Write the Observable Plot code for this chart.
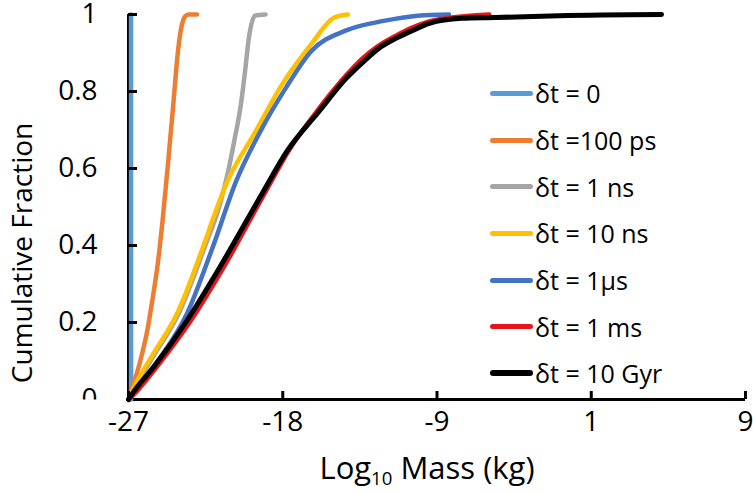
<!DOCTYPE html>
<html>
<head>
<meta charset="utf-8">
<script src="https://cdn.jsdelivr.net/npm/d3@7"></script>
<script src="https://cdn.jsdelivr.net/npm/@observablehq/plot@0.6"></script>
<style>
  body { margin: 0; background: #fff; font-family: "Open Sans", sans-serif; }
  #wrap { position: relative; width: 753px; height: 493px; overflow: hidden; background: #fff; }
  #legend { position: absolute; left: 490px; top: 70px; }
  .item { display: flex; align-items: center; height: 46.7px; font-size: 25px; color: #000; white-space: nowrap; }
  .sw { width: 43px; height: 5px; border-radius: 3px; margin-right: 2px; }
  #xtitle { position: absolute; top: 440px; left: 427px; transform: translateX(-50%); font-size: 31px; line-height: 54px; white-space: nowrap; color: #000; }
  #xtitle sub { font-size: 0.6em; vertical-align: -0.3em; line-height: 0; }
</style>
</head>
<body>
<div id="wrap">
  <div id="chart"></div>
  <div id="xtitle">Log<sub>10</sub> Mass (kg)</div>
  <div id="legend"></div>
</div>
<script>
// ---- labels ----
const seriesNames = ["δt = 0", "δt =100 ps", "δt = 1 ns", "δt = 10 ns", "δt = 1µs", "δt = 1 ms", "δt = 10 Gyr"];
const seriesColors = ["#5B9BD5", "#ED7D31", "#A5A5A5", "#FFC000", "#4472C4", "#E8141B", "#000000"];
const xTickValues = [-27, -18, -9, 0, 9];
const xTickLabels = ["-27", "-18", "-9", "1", "9"];
const yTickValues = [0, 0.2, 0.4, 0.6, 0.8, 1];
const yTickLabels = ["0", "0.2", "0.4", "0.6", "0.8", "1"];
const yTitle = "Cumulative Fraction";

// ---- series (log10 mass, cumulative fraction) ----
const dt0_x = [-26.85, -26.85];
const dt0_y = [0, 1];

const ps100_x = [-27, -26.8, -26.5, -26.2, -25.9, -25.6, -25.3, -25.0, -24.7, -24.4, -24.1, -23.9, -23.7, -23.5, -23.0];
const ps100_y = [0, 0.03, 0.07, 0.12, 0.18, 0.26, 0.35, 0.47, 0.61, 0.76, 0.91, 0.97, 0.995, 1, 1];

const ns1_x = [-27, -26.4, -25.45, -24.07, -22.56, -21.6, -21.2, -20.8, -20.45, -20.2, -19.98, -19.62, -19.0];
const ns1_y = [0, 0.049, 0.119, 0.223, 0.395, 0.517, 0.590, 0.678, 0.764, 0.852, 0.938, 0.997, 1];

const ns10_x = [-27, -26.48, -25.55, -24.17, -22.66, -21.68, -21.2, -19.65, -18.0, -16.3, -15.0, -14.2];
const ns10_y = [0, 0.049, 0.119, 0.223, 0.395, 0.517, 0.569, 0.691, 0.821, 0.925, 0.992, 1];

const us1_x = [-27, -26.31, -25.15, -23.59, -22.09, -20.70, -19.37, -17.81, -16.31, -14.34, -12.03, -10.12, -8.3];
const us1_y = [0, 0.042, 0.109, 0.223, 0.395, 0.569, 0.691, 0.810, 0.906, 0.958, 0.984, 0.997, 1];

const ms1_x = [-27, -26.48, -25.38, -23.36, -21.45, -19.0, -17.6, -15.85, -14.3, -13.35, -12.4, -11.4, -10.45, -9.45, -7.55, -5.95];
const ms1_y = [0, 0.023, 0.083, 0.205, 0.343, 0.540, 0.650, 0.758, 0.842, 0.886, 0.919, 0.945, 0.966, 0.982, 0.995, 1];

const gyr10_x = [-27, -26.65, -25.55, -23.59, -21.68, -19.2, -17.75, -15.85, -14.3, -13.35, -12.4, -11.4, -10.45, -9.45, -7.55, -5.6, -1.9, 4.1];
const gyr10_y = [0, 0.023, 0.083, 0.205, 0.343, 0.535, 0.645, 0.750, 0.834, 0.875, 0.912, 0.938, 0.958, 0.977, 0.990, 0.992, 0.997, 1];

const seriesX = [dt0_x, ps100_x, ns1_x, ns10_x, us1_x, ms1_x, gyr10_x];
const seriesY = [dt0_y, ps100_y, ns1_y, ns10_y, us1_y, ms1_y, gyr10_y];

const rowsFor = i => seriesX[i].map((x, j) => ({x, y: seriesY[i][j], series: seriesNames[i]}));

const lineMarks = seriesNames.map((name, i) =>
  Plot.line(rowsFor(i), {
    x: "x", y: "y",
    stroke: seriesColors[i],
    strokeWidth: i === 6 ? 5 : 4.5,
    strokeLinecap: "round", strokeLinejoin: "round",
    curve: i === 0 ? "linear" : "monotone-x"
  })
);

const W = 753, H = 440, mL = 128, mR = 8, mT = 14, mB = 41;
const innerW = W - mL - mR, innerH = H - mT - mB;
const xDomain = [-27, 9], yDomain = [0, 1];
// tick-mark lengths (8px up, 9px right), expressed in scale units
const xTickLen = 8 / innerH * (yDomain[1] - yDomain[0]);
const yTickLen = 9 / innerW * (xDomain[1] - xDomain[0]);

const chart = Plot.plot({
  width: W,
  height: H,
  marginLeft: mL,
  marginRight: mR,
  marginTop: mT,
  marginBottom: mB,
  style: {fontFamily: "Open Sans, sans-serif", fontSize: "28px", color: "#000", background: "#fff"},
  x: {domain: xDomain},
  y: {domain: yDomain},
  marks: [
    Plot.ruleX([xDomain[0]], {stroke: "#000", strokeWidth: 3}),
    Plot.ruleY([yDomain[0]], {stroke: "#000", strokeWidth: 3}),
    // tick labels
    Plot.axisX({ticks: xTickValues, tickSize: 0, tickPadding: 12, fontSize: 28, fill: "#000", label: null,
      tickFormat: d => xTickLabels[xTickValues.indexOf(d)]}),
    Plot.axisY({ticks: yTickValues, tickSize: 0, tickPadding: 31, fontSize: 28, fill: "#000", label: null,
      tickFormat: d => yTickLabels[yTickValues.indexOf(d)]}),
    ...lineMarks,
    // inward tick marks
    Plot.ruleX(xTickValues, {x: d => d, y1: yDomain[0], y2: yDomain[0] + xTickLen, stroke: "#000", strokeWidth: 3}),
    Plot.ruleY(yTickValues.slice(1), {y: d => d, x1: xDomain[0], x2: xDomain[0] + yTickLen, stroke: "#000", strokeWidth: 3}),
    Plot.text([yTitle], {frameAnchor: "left", rotate: -90, dx: -105, dy: 46, fontSize: 28, fill: "#000",
      textAnchor: "middle", lineAnchor: "middle"})
  ]
});
document.getElementById("chart").appendChild(chart);

// clip the y-axis labels at the x axis line (the "0" is half hidden in the original)
const svgNS = "http://www.w3.org/2000/svg";
const yZero = chart.scale("y").apply(0);
const defs = document.createElementNS(svgNS, "defs");
const cp = document.createElementNS(svgNS, "clipPath");
cp.setAttribute("id", "yLabelClip");
const r = document.createElementNS(svgNS, "rect");
r.setAttribute("x", 0); r.setAttribute("y", 0);
r.setAttribute("width", W); r.setAttribute("height", yZero);
cp.appendChild(r); defs.appendChild(cp); chart.insertBefore(defs, chart.firstChild);
chart.querySelectorAll('g[aria-label="y-axis tick label"]').forEach(g => g.setAttribute("clip-path", "url(#yLabelClip)"));

// legend
const legend = document.getElementById("legend");
seriesNames.forEach((name, i) => {
  const item = document.createElement("div");
  item.className = "item";
  const sw = document.createElement("span");
  sw.className = "sw";
  sw.style.background = seriesColors[i];
  if (i === 6) sw.style.height = "6px";
  const t = document.createElement("span");
  t.textContent = name;
  item.appendChild(sw); item.appendChild(t);
  legend.appendChild(item);
});
</script>
</body>
</html>
